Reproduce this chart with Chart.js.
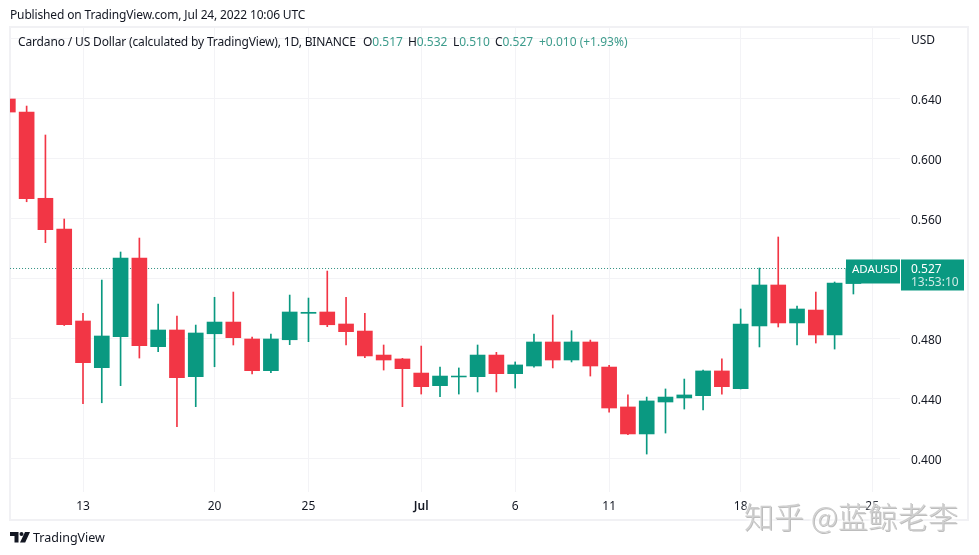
<!DOCTYPE html>
<html>
<head>
<meta charset="utf-8">
<style>
  html, body { margin: 0; padding: 0; background: #fff; }
  #wrap { position: relative; width: 979px; height: 555px; overflow: hidden; font-family: "Noto Sans", sans-serif; color: #131722; }
  #frame { position: absolute; left: 9px; top: 26px; width: 956px; height: 491px; border: 2px solid #f1f1f4; }
  canvas { position: absolute; left: 0; top: 0; }
  .txt { position: absolute; white-space: pre; font-size: 12px; line-height: 16px; letter-spacing: -0.15px; }
  .val { color: #3d9c8c; letter-spacing: 0; }
  #mark { position: absolute; left: 744px; top: 495px; font-family: "Noto Sans CJK SC", sans-serif; font-size: 30px; line-height: 40px; font-weight: 300; color: #cfcfcf; text-shadow: 1px 1px 0 #bdbdbd, 0 0 3px #fff, 0 0 3px #fff, 0 0 4px #fff, 0 0 5px #fff; white-space: pre; }
</style>
</head>
<body>
<div id="wrap">
  <div id="frame"></div>
  <canvas id="chart" width="979" height="555"></canvas>
  <div class="txt" style="left:10px;top:7px">Published on TradingView.com, Jul 24, 2022 10:06 UTC</div>
  <div class="txt" style="left:18px;top:34px">Cardano / US Dollar (calculated by TradingView), 1D, BINANCE</div>
  <div class="txt" style="left:363px;top:34px">O<span class="val">0.517</span></div>
  <div class="txt" style="left:408px;top:34px">H<span class="val">0.532</span></div>
  <div class="txt" style="left:453px;top:34px">L<span class="val">0.510</span></div>
  <div class="txt" style="left:495px;top:34px">C<span class="val">0.527</span></div>
  <div class="txt" style="left:539px;top:34px"><span class="val">+0.010 (+1.93%)</span></div>
  <svg style="position:absolute;left:10px;top:532px" width="20" height="11" viewBox="0 0 20 11"><path fill="#131722" d="M0 0h8.5v10.5H4.5V4H0zM11.5 0a2 2 0 1 1 0 4 2 2 0 0 1 0-4zM15 0h5l-4.8 10.5H10z"/></svg>
  <div class="txt" style="left:33px;top:530px;font-size:12.5px;letter-spacing:0">TradingView</div>
  <div id="mark">知乎 @蓝鲸老李</div>
</div>
<script src="https://cdn.jsdelivr.net/npm/chart.js@4"></script>
<script>
// daily candles, Jun 9 to Jul 24 2022
const dates = ['Jun 9','Jun 10','Jun 11','Jun 12','Jun 13','Jun 14','Jun 15','Jun 16','Jun 17','Jun 18','Jun 19','Jun 20','Jun 21','Jun 22','Jun 23','Jun 24','Jun 25','Jun 26','Jun 27','Jun 28','Jun 29','Jun 30','Jul 1','Jul 2','Jul 3','Jul 4','Jul 5','Jul 6','Jul 7','Jul 8','Jul 9','Jul 10','Jul 11','Jul 12','Jul 13','Jul 14','Jul 15','Jul 16','Jul 17','Jul 18','Jul 19','Jul 20','Jul 21','Jul 22','Jul 23','Jul 24'];
const opens  = [.6400,.6313,.5738,.5533,.4920,.4609,.4815,.5340,.4749,.4860,.4549,.4835,.4913,.4800,.4589,.4795,.4971,.4980,.4900,.4853,.4693,.4667,.4573,.4489,.4547,.4549,.4693,.4569,.4620,.4780,.4660,.4780,.4613,.4347,.4167,.4380,.4407,.4422,.4587,.4469,.4887,.5160,.4907,.4993,.4827,.517];
const highs  = [.6450,.6353,.6160,.5600,.4971,.5193,.5380,.5473,.5033,.4953,.4893,.5078,.5113,.4813,.4833,.5093,.5073,.5253,.5078,.4971,.4760,.4671,.4753,.4613,.4607,.4760,.4711,.4647,.4833,.4960,.4855,.4793,.4625,.4427,.4413,.4467,.4533,.4593,.4667,.5000,.5273,.5480,.5020,.5113,.5180,.532];
const lows   = [.6310,.5715,.5442,.4890,.4369,.4375,.4489,.4673,.4715,.4215,.4349,.4615,.4760,.4567,.4575,.4762,.4782,.4882,.4760,.4675,.4593,.4349,.4433,.4415,.4433,.4447,.4447,.4473,.4613,.4607,.4647,.4553,.4313,.4163,.4033,.4173,.4333,.4327,.4433,.4467,.4747,.4880,.4760,.4773,.4733,.510];
const closes = [.6313,.5735,.5529,.4895,.4642,.4820,.5340,.4755,.4860,.4542,.4840,.4913,.4809,.4589,.4800,.4980,.4978,.4895,.4849,.4687,.4660,.4602,.4482,.4553,.4553,.4693,.4569,.4627,.4780,.4660,.4780,.4620,.4340,.4167,.4387,.4413,.4427,.4587,.4482,.4900,.5160,.4907,.5000,.4827,.5173,.527];

const tickDays = [4, 11, 16, 22, 27, 32, 39, 46];   // index into dates
const tickNames = ['13', '20', '25', 'Jul', '6', '11', '18', '25'];
const priceTicks = [0.40, 0.44, 0.48, 0.52, 0.56, 0.60, 0.64, 0.68];
const priceNames = ['0.400', '0.440', '0.480', '', '0.560', '0.600', '0.640', 'USD'];
const lastPrice = 0.527;
const symbol = 'ADAUSD';
const countdown = '13:53:10';

const GREEN = '#0a9981', RED = '#f23645', GRID = '#f3f3f6';
const colours = closes.map((c, i) => c >= opens[i] ? GREEN : RED);

// tag on the price axis, it sits over the candles
const tagPlugin = {
  id: 'lastPriceTag',
  afterDraw(chart) {
    const c = chart.ctx, y = chart.scales.y.getPixelForValue(lastPrice);
    c.save();
    c.fillStyle = GREEN;
    c.fillRect(846, y - 9, 54, 24);
    c.fillRect(901, y - 9, 63, 31);
    c.fillStyle = '#fff';
    c.textBaseline = 'middle';
    c.font = '11.5px "Noto Sans"';
    c.fillText(symbol, 852, y + 1);
    c.font = '12px "Noto Sans"';
    c.fillText(lastPrice.toFixed(3), 911, y + 1);
    c.fillStyle = 'rgba(255,255,255,0.8)';
    c.fillText(countdown, 911, y + 14);
    c.restore();
  }
};

new Chart(document.getElementById('chart'), {
  type: 'bar',
  plugins: [tagPlugin],
  data: {
    datasets: [
      {
        type: 'line',
        data: [{ x: -1, y: lastPrice }, { x: 48, y: lastPrice }],
        borderColor: '#2d8f7f', borderWidth: 1, borderDash: [1, 2], pointRadius: 0, order: 3
      },
      {
        data: dates.map((d, i) => ({ x: i, y: [lows[i], highs[i]] })),
        backgroundColor: colours, barThickness: 1, grouped: false, order: 2
      },
      {
        data: dates.map((d, i) => ({ x: i, y: [opens[i], closes[i]] })),
        backgroundColor: colours, barThickness: 15, grouped: false, order: 1
      }
    ]
  },
  options: {
    responsive: false,
    animation: false,
    layout: { padding: { left: 10, top: 28, right: 11, bottom: 35 } },
    plugins: { legend: { display: false }, tooltip: { enabled: false } },
    scales: {
      x: {
        type: 'linear',
        offset: false,
        min: 0.115,
        max: 47.48,
        afterBuildTicks(s) { s.ticks = tickDays.map(v => ({ value: v })); },
        afterFit(s) { s.height = 28; },
        grid: { color: GRID, drawTicks: false, offset: false },
        border: { display: false },
        ticks: {
          autoSkip: false, maxRotation: 0, padding: 7, color: '#131722',
          font: c => ({ family: 'Noto Sans', size: 12, weight: c.tick && c.tick.value === 22 ? '600' : '400' }),
          callback: v => tickNames[tickDays.indexOf(v)]
        }
      },
      y: {
        position: 'right',
        min: 0.378,
        max: 0.68733,
        afterBuildTicks(s) { s.ticks = priceTicks.map(v => ({ value: v })); },
        afterFit(s) { s.width = 68; },
        grid: { color: GRID, drawTicks: false },
        border: { display: false },
        ticks: {
          padding: 11, labelOffset: 2, color: '#131722', font: { family: 'Noto Sans', size: 12 },
          callback: v => priceNames[priceTicks.indexOf(v)]
        }
      }
    }
  }
});
</script>
</body>
</html>
